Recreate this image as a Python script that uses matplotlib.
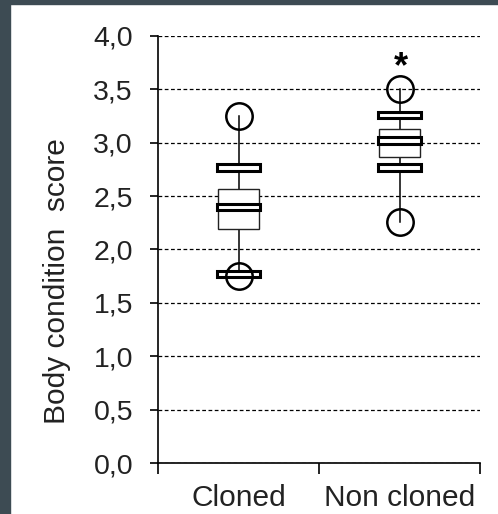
import numpy as np
import matplotlib.pyplot as plt
from matplotlib.patches import Rectangle

# values
categories = ['Cloned', 'Non cloned']
box_low = [2.19, 2.87]
box_high = [2.57, 3.13]
medians = [2.40, 3.02]
upper_bars = [2.77, 3.26]
lower_bars = [1.77, 2.77]
max_vals = [3.25, 3.50]
min_vals = [1.75, 2.26]
yticks = [0.0, 0.5, 1.0, 1.5, 2.0, 2.5, 3.0, 3.5, 4.0]
ytick_labels = ['0,0', '0,5', '1,0', '1,5', '2,0', '2,5', '3,0', '3,5', '4,0']
signif = ['', '*']

plt.rcParams['font.family'] = ['Liberation Sans', 'DejaVu Sans']

fig = plt.figure(figsize=(4.98, 5.14), dpi=100)
ax = fig.add_axes([0.3173, 0.0992, 0.6466, 0.8308])

x = np.arange(len(categories)) + 0.5

# whiskers from min to max
for xi, lo, hi in zip(x, min_vals, max_vals):
    ax.plot([xi, xi], [lo, hi], color='black', lw=1.1, zorder=2)

# interquartile box
ax.bar(x, np.array(box_high) - np.array(box_low), bottom=box_low, width=0.255,
       facecolor='white', edgecolor='#222222', linewidth=1.0, zorder=3)

# thick bars: median and outer percentiles
bar_h = 0.061
for vals in (upper_bars, medians, lower_bars):
    ax.bar(x, bar_h, bottom=np.array(vals) - bar_h / 2, width=0.273,
           facecolor='white', edgecolor='black', linewidth=2.2, zorder=4)

# min / max circles
ax.plot(x, max_vals, 'o', ms=19, mfc='none', mec='black', mew=1.8, zorder=5)
ax.plot(x, min_vals, 'o', ms=19, mfc='none', mec='black', mew=1.8, zorder=5)

for xi, top, s in zip(x, max_vals, signif):
    if s:
        ax.annotate(s, xy=(xi, top), xytext=(1, 9), textcoords='offset points',
                    ha='center', va='baseline', fontsize=26, fontweight='bold')

ax.set_xlim(0, 2)
ax.set_ylim(0, 4)
ax.set_yticks(yticks)
ax.set_yticklabels(ytick_labels)
ax.set_xticks([0, 1, 2])
ax.set_xticklabels([])
ax.set_xticks(x, minor=True)
ax.set_xticklabels(categories, minor=True)

ax.tick_params(axis='x', which='major', length=8, width=1.2, direction='out')
ax.tick_params(axis='x', which='minor', length=0, pad=15, labelsize=21.5, labelcolor='#222222')
ax.tick_params(axis='y', length=6, width=1.2, pad=12, labelsize=20.5, labelcolor='#222222')

ax.yaxis.grid(True, linestyle=(0, (3, 2)), color='black', lw=0.9)
ax.set_axisbelow(True)

for side in ('top', 'right'):
    ax.spines[side].set_visible(False)
for side in ('left', 'bottom'):
    ax.spines[side].set_linewidth(1.2)

ax.set_ylabel('Body condition  score', fontsize=21.5, color='#222222')
ax.yaxis.set_label_coords(-0.27, 0.426)

# dark frame strips on the left and top
fig.patches.append(Rectangle((0, 0), 10 / 498, 1, transform=fig.transFigure,
                             color='#3d4b53', zorder=10))
fig.patches.append(Rectangle((0, 1 - 4 / 514), 1, 4 / 514, transform=fig.transFigure,
                             color='#3d4b53', zorder=10))

fig.savefig('out.png', dpi=100)
